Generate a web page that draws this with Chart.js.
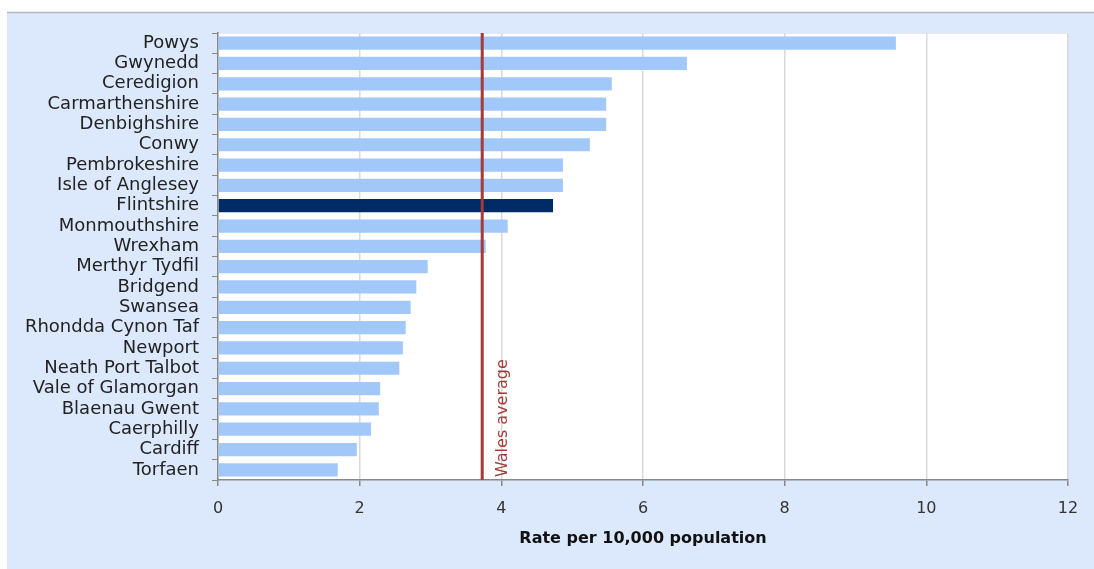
<!DOCTYPE html>
<html>
<head>
<meta charset="utf-8">
<script src="https://cdn.jsdelivr.net/npm/chart.js@4/dist/chart.umd.min.js"></script>
<style>
  html, body { margin: 0; padding: 0; background: #fff; }
  #wrap { position: relative; width: 1094px; height: 569px; }
</style>
</head>
<body>
<div id="wrap"><canvas id="rates"></canvas></div>
<script>
const AREAS = [
  'Powys', 'Gwynedd', 'Ceredigion', 'Carmarthenshire', 'Denbighshire', 'Conwy',
  'Pembrokeshire', 'Isle of Anglesey', 'Flintshire', 'Monmouthshire', 'Wrexham',
  'Merthyr Tydfil', 'Bridgend', 'Swansea', 'Rhondda Cynon Taf', 'Newport',
  'Neath Port Talbot', 'Vale of Glamorgan', 'Blaenau Gwent', 'Caerphilly',
  'Cardiff', 'Torfaen'
];
const RATES = [
  9.57, 6.62, 5.56, 5.48, 5.48, 5.25,
  4.87, 4.87, 4.73, 4.09, 3.78,
  2.96, 2.80, 2.72, 2.65, 2.61,
  2.56, 2.29, 2.27, 2.16,
  1.96, 1.69
];
const HIGHLIGHT = 'Flintshire';
const WALES_AVERAGE = 3.73;
const X_MIN = 0;
const X_MAX = 12;
const X_STEP = 2;

const BAR_COLOUR = '#a2c8fa';
const HIGHLIGHT_COLOUR = '#002b66';
const PANEL_COLOUR = '#dce9fc';
const AVERAGE_COLOUR = '#a33b37';

const FONT = '"DejaVu Sans", Verdana, sans-serif';

// light blue panel + white plot area behind everything
const panelPlugin = {
  id: 'panel',
  beforeDraw(chart) {
    const { ctx, width, height, chartArea } = chart;
    ctx.save();
    ctx.fillStyle = '#fff';
    ctx.fillRect(0, 0, width, height);
    ctx.fillStyle = PANEL_COLOUR;
    ctx.fillRect(7, 13, width - 7, height - 13);
    ctx.strokeStyle = '#b4b8bc';
    ctx.lineWidth = 1.5;
    ctx.beginPath();
    ctx.moveTo(7, 12.5);
    ctx.lineTo(width, 12.5);
    ctx.stroke();
    ctx.fillStyle = '#fff';
    ctx.fillRect(chartArea.left, chartArea.top, chartArea.right - chartArea.left, chartArea.bottom - chartArea.top);
    ctx.strokeStyle = '#e6e6e6';
    ctx.lineWidth = 1;
    ctx.beginPath();
    ctx.moveTo(chartArea.left, chartArea.top + 0.5);
    ctx.lineTo(chartArea.right, chartArea.top + 0.5);
    ctx.stroke();
    ctx.restore();
  }
};

// vertical Wales average line with rotated label
const averagePlugin = {
  id: 'walesAverage',
  afterDatasetsDraw(chart) {
    const { ctx, chartArea } = chart;
    const x = chart.scales.x.getPixelForValue(WALES_AVERAGE);
    ctx.save();
    ctx.strokeStyle = AVERAGE_COLOUR;
    ctx.lineWidth = 3;
    ctx.beginPath();
    ctx.moveTo(x, chartArea.top);
    ctx.lineTo(x, chartArea.bottom);
    ctx.stroke();
    ctx.translate(x + 21, chartArea.bottom - 3);
    ctx.rotate(-Math.PI / 2);
    ctx.fillStyle = AVERAGE_COLOUR;
    ctx.font = '16px ' + FONT;
    ctx.textAlign = 'left';
    ctx.textBaseline = 'middle';
    ctx.fillText('Wales average', 0, 0);
    ctx.restore();
  }
};

const config = {
  type: 'bar',
  data: {
    labels: AREAS,
    datasets: [{
      data: RATES,
      backgroundColor: AREAS.map(a => a === HIGHLIGHT ? HIGHLIGHT_COLOUR : BAR_COLOUR),
      borderWidth: 0,
      barPercentage: 0.65,
      categoryPercentage: 1.0
    }]
  },
  plugins: [panelPlugin, averagePlugin],
  options: {
    indexAxis: 'y',
    responsive: true,
    maintainAspectRatio: false,
    animation: false,
    layout: {
      padding: { left: 7, top: 33, right: 26, bottom: 0 }
    },
    plugins: {
      legend: { display: false },
      tooltip: { enabled: false }
    },
    scales: {
      x: {
        min: X_MIN,
        max: X_MAX,
        afterFit(scale) { scale.height = 89; },
        ticks: {
          stepSize: X_STEP,
          color: '#333',
          padding: 13,
          font: { family: FONT, size: 16 }
        },
        grid: {
          color: '#d9d9d9',
          lineWidth: 1.5,
          tickColor: '#888',
          tickLength: 6
        },
        border: { color: '#888', width: 1.5 },
        title: {
          display: true,
          text: 'Rate per 10,000 population',
          color: '#111',
          font: { family: FONT, size: 16, weight: 'bold' },
          padding: { top: 4, bottom: 21 }
        }
      },
      y: {
        afterFit(scale) { scale.width = 211; },
        ticks: {
          autoSkip: false,
          color: '#222',
          padding: 13,
          font: { family: FONT, size: 18 }
        },
        grid: {
          offset: true,
          drawOnChartArea: false,
          color: '#888',
          tickLength: 6
        },
        border: { color: '#888', width: 1.5 }
      }
    }
  }
};

new Chart(document.getElementById('rates'), config);
</script>
</body>
</html>
